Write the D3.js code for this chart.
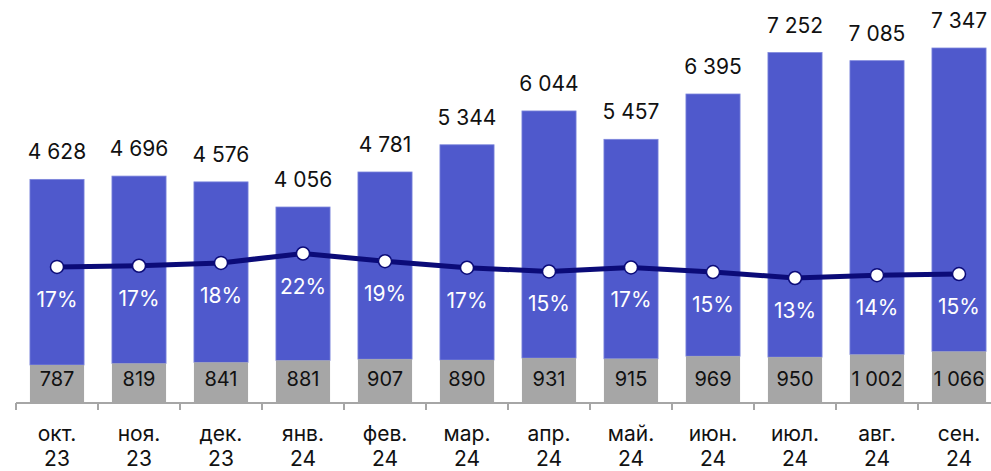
<!DOCTYPE html>
<meta charset="utf-8">
<script src="https://d3js.org/d3.v7.min.js"></script>
<style>
  body { margin: 0; background: #fff; font-family: Inter, "Noto Sans", sans-serif; }
  .axis path, .axis line { stroke: #a6a6a6; stroke-width: 2px; shape-rendering: crispEdges; }
</style>
<div id="chart"></div>
<script>
  // Data
  var months = ["окт.", "ноя.", "дек.", "янв.", "фев.", "мар.", "апр.", "май.", "июн.", "июл.", "авг.", "сен."];
  var years = ["23", "23", "23", "24", "24", "24", "24", "24", "24", "24", "24", "24"];
  var totals = [4628, 4696, 4576, 4056, 4781, 5344, 6044, 5457, 6395, 7252, 7085, 7347];
  var bottoms = [787, 819, 841, 881, 907, 890, 931, 915, 969, 950, 1002, 1066];
  var shares = [17.0, 17.4, 18.4, 21.7, 19.0, 16.7, 15.4, 16.8, 15.2, 13.1, 14.1, 14.5];

  var W = 991, H = 471;
  var baseY = 403;

  var svg = d3.select("#chart").append("svg")
    .attr("width", W)
    .attr("height", H);

  var idx = d3.range(months.length);

  // band scale, last category runs off the right edge like in the source
  var x = d3.scaleBand()
    .domain(idx)
    .range([16, 16 + 82 * months.length])
    .paddingInner(0.34)
    .paddingOuter(0.17);

  var y = d3.scaleLinear()
    .domain([0, 7347])
    .range([baseY, 48]);

  // separate scale for the share line
  var yp = d3.scaleLinear()
    .domain([13.1, 21.7])
    .range([278, 253.5]);

  var cx = function (i) { return x(i) + x.bandwidth() / 2; };

  // blue part (total)
  svg.append("g").selectAll("rect")
    .data(idx)
    .join("rect")
    .attr("x", function (i) { return x(i); })
    .attr("width", x.bandwidth())
    .attr("y", function (i) { return y(totals[i]); })
    .attr("height", function (i) { return y(bottoms[i]) - y(totals[i]); })
    .attr("fill", "#4f59cc")
    .attr("stroke", "#7d86dc")
    .attr("stroke-width", 0.8);

  // gray part
  svg.append("g").selectAll("rect")
    .data(idx)
    .join("rect")
    .attr("x", function (i) { return x(i); })
    .attr("width", x.bandwidth())
    .attr("y", function (i) { return y(bottoms[i]); })
    .attr("height", function (i) { return baseY - y(bottoms[i]); })
    .attr("fill", "#a6a6a6");

  var fmt = function (v) { return d3.format(",")(v).replace(/,/g, " "); };

  // total labels
  svg.append("g").selectAll("text")
    .data(idx)
    .join("text")
    .attr("x", cx)
    .attr("y", function (i) { return y(totals[i]) - 20; })
    .attr("text-anchor", "middle")
    .style("font-size", "21px")
    .attr("fill", "#111")
    .text(function (i) { return fmt(totals[i]); });

  // gray labels
  svg.append("g").selectAll("text")
    .data(idx)
    .join("text")
    .attr("x", cx)
    .attr("y", 386)
    .attr("text-anchor", "middle")
    .style("font-size", "20px")
    .attr("fill", "#111")
    .text(function (i) { return fmt(bottoms[i]); });

  // axis
  var gx = svg.append("g")
    .attr("class", "axis")
    .attr("transform", "translate(0," + baseY + ")")
    .call(d3.axisBottom(x).tickSize(0).tickFormat(""));
  gx.select(".domain").attr("d", "M16,0H991");
  gx.selectAll(".tick").remove();
  gx.selectAll(".sep")
    .data(idx)
    .join("line")
    .attr("class", "sep")
    .attr("x1", function (i) { return x(i) - x.step() * x.paddingInner() / 2; })
    .attr("x2", function (i) { return x(i) - x.step() * x.paddingInner() / 2; })
    .attr("y1", 0)
    .attr("y2", 7);

  // month labels
  var lab = svg.append("g").selectAll("text")
    .data(idx)
    .join("text")
    .attr("text-anchor", "middle")
    .style("font-size", "21px")
    .attr("fill", "#111");
  lab.append("tspan")
    .attr("x", cx)
    .attr("y", 441)
    .text(function (i) { return months[i]; });
  lab.append("tspan")
    .attr("x", cx)
    .attr("y", 466)
    .text(function (i) { return years[i]; });

  // share line
  var line = d3.line()
    .x(cx)
    .y(function (i) { return yp(shares[i]); });

  svg.append("path")
    .datum(idx)
    .attr("d", line)
    .attr("fill", "none")
    .attr("stroke", "#0b0b78")
    .attr("stroke-width", 5);

  svg.append("g").selectAll("circle")
    .data(idx)
    .join("circle")
    .attr("cx", cx)
    .attr("cy", function (i) { return yp(shares[i]); })
    .attr("r", 6.5)
    .attr("fill", "#fff")
    .attr("stroke", "#0b0b78")
    .attr("stroke-width", 1.5);

  // share labels
  svg.append("g").selectAll("text")
    .data(idx)
    .join("text")
    .attr("x", cx)
    .attr("y", function (i) { return yp(shares[i]) + 40; })
    .attr("text-anchor", "middle")
    .style("font-size", "21px")
    .attr("fill", "#fff")
    .text(function (i) { return Math.round(shares[i]) + "%"; });
</script>
